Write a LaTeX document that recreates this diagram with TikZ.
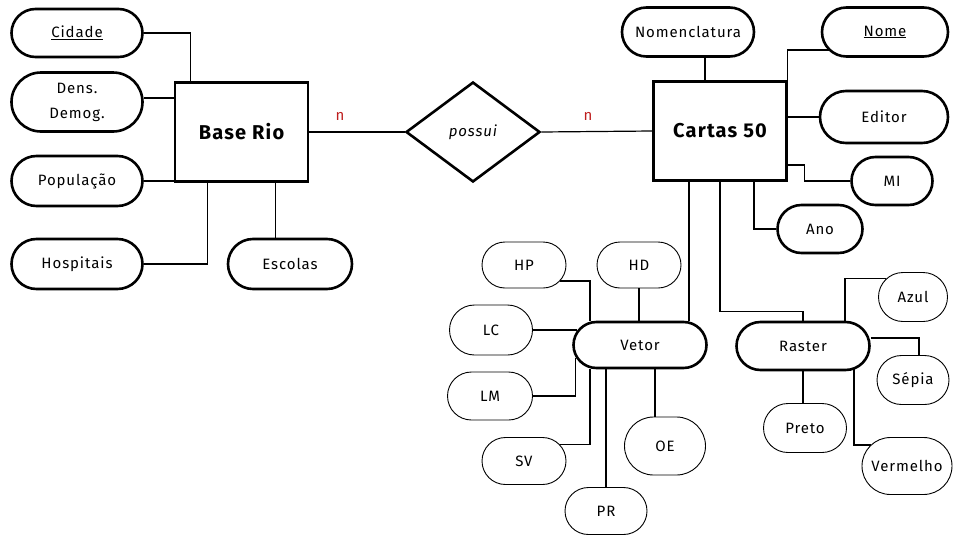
\documentclass[tikz,border=0pt]{standalone}
\usepackage{fontspec}
\setmainfont{Fira Sans}
\newfontfamily\spc[LetterSpace=6]{Fira Sans}
\usetikzlibrary{shapes.geometric,shapes.misc}
\definecolor{nred}{RGB}{190,30,30}
\begin{document}
\begin{tikzpicture}[x=1pt,y=-1pt,
  ent/.style={draw, line width=2.6pt, minimum width=133pt, minimum height=99pt, inner sep=0pt, font=\spc\fontsize{20}{24}\selectfont\bfseries},
  attr/.style={draw, rounded rectangle, line width=2.6pt, inner sep=0pt, font=\spc\fontsize{15}{18}\selectfont},
  sattr/.style={attr, line width=0.9pt},
  rel/.style={draw, diamond, line width=2.6pt, aspect=1.34, minimum width=134pt, minimum height=100pt, inner sep=0pt, font=\spc\fontsize{15}{18}\selectfont\itshape},
  nlab/.style={text=nred, font=\spc\fontsize{15}{18}\selectfont, inner sep=0pt},
  lnk/.style={line width=1.2pt}]
\useasboundingbox (0,0) rectangle (954,536);
% left entity
\node[attr, minimum width=131pt, minimum height=48pt] (cid) at (77,33) {\underline{Cidade}};
\node[attr, minimum width=131pt, minimum height=59pt, align=center, font=\spc\fontsize{15}{25}\selectfont] (dens) at (77,102) {Dens.\\Demog.};
\node[attr, minimum width=131pt, minimum height=50pt] (pop) at (77,181) {População};
\node[attr, minimum width=131pt, minimum height=50pt] (hosp) at (77,264) {Hospitais};
\node[attr, minimum width=124pt, minimum height=50pt] (esc) at (290,264) {Escolas};
\node[ent] (base) at (241.5,132) {Base Rio};
\node[rel] (rel) at (473,132) {possui};
\node[ent] (cart) at (720,131) {Cartas 50};
\node[nlab] (n1) at (340,116) {n};
\node[nlab] (n2) at (588,116) {n};
% right entity attributes
\node[attr, minimum width=132pt, minimum height=49pt] (nom) at (688,32) {Nomenclatura};
\node[attr, minimum width=126pt, minimum height=49pt] (nome) at (885,32) {\underline{Nome}};
\node[attr, minimum width=128pt, minimum height=52pt] (edit) at (884,117) {Editor};
\node[attr, minimum width=81pt, minimum height=48pt] (mi) at (892,181) {MI};
\node[attr, minimum width=85pt, minimum height=48pt] (ano) at (820,229) {Ano};
\node[attr, minimum width=133pt, minimum height=46pt] (vet) at (640,345) {Vetor};
\node[attr, minimum width=133pt, minimum height=48pt] (ras) at (803,346) {Raster};
% vetor attributes
\node[sattr, minimum width=84pt, minimum height=46pt] (hp) at (524,265) {HP};
\node[sattr, minimum width=84pt, minimum height=46pt] (hd) at (639,265) {HD};
\node[sattr, minimum width=83pt, minimum height=50pt] (lc) at (491,330) {LC};
\node[sattr, minimum width=85pt, minimum height=48pt] (lm) at (490,396) {LM};
\node[sattr, minimum width=84pt, minimum height=47pt] (sv) at (524,461) {SV};
\node[sattr, minimum width=82pt, minimum height=47pt] (pr) at (606,511) {PR};
\node[sattr, minimum width=81pt, minimum height=58pt] (oe) at (665,446) {OE};
% raster attributes
\node[sattr, minimum width=69pt, minimum height=49pt] (azul) at (913,297) {Azul};
\node[sattr, minimum width=72pt, minimum height=49pt] (sep) at (913,380) {Sépia};
\node[sattr, minimum width=83pt, minimum height=49pt] (pre) at (805,428) {Preto};
\node[sattr, minimum width=90pt, minimum height=57pt] (ver) at (907,466) {Vermelho};
% connectors left
\draw[lnk] (cid.east) -| ([xshift=17pt]base.north west);
\draw[lnk] ([yshift=4pt]dens.east) -- ([yshift=4pt]dens.east -| base.west);
\draw[lnk] (pop.east) -- (pop.east -| base.west);
\draw[lnk] (hosp.east) -| ([xshift=34pt]base.south west);
\draw[lnk] ([xshift=34pt]base.south) -- ([xshift=34pt]base.south |- esc.north);
\draw[lnk] (base.east) -- (rel.west);
\draw[lnk] (rel.east) -- (cart.west);
% connectors right
\draw[lnk] ([xshift=-15pt]cart.north) -- ([xshift=-15pt]cart.north |- nom.south);
\draw[lnk] (cart.north east) |- ([xshift=8pt,yshift=-18pt]nome.west);
\draw[lnk] (edit.west) -- (edit.west -| cart.east);
\draw[lnk] ([yshift=-34pt]cart.east) -- ++(17,0) |- (mi.west);
\draw[lnk] ([xshift=34pt]cart.south) |- (ano.west);
\draw[lnk] ([xshift=-31pt]cart.south) -- ([xshift=-31pt]cart.south |- vet.north);
\draw[lnk] (cart.south) -- ++(0,130) -| (ras.north);
% vetor connectors
\draw[lnk] (hp.-24) -| ([xshift=-50pt]vet.north);
\draw[lnk] (hd.south) -- (hd.south |- vet.north);
\draw[lnk] (lc.east) -- ([xshift=5pt]lc.east -| vet.west);
\draw[lnk] (lm.east) -| ([xshift=3pt,yshift=-13pt]vet.west);
\draw[lnk] (sv.24) -| ([xshift=-50pt]vet.south);
\draw[lnk] (pr.north) -- (pr.north |- vet.south);
\draw[lnk] ([xshift=-10pt]oe.north) -- ([xshift=-10pt]oe.north |- vet.south);
% raster connectors
\draw[lnk] ([xshift=42pt]ras.north) |- (azul.146);
\draw[lnk] ([yshift=8pt]ras.east) -| ([xshift=6pt]sep.north);
\draw[lnk] (ras.south) -- (ras.south |- pre.north);
\draw[lnk] ([xshift=51pt,yshift=3pt]ras.south) |- ([xshift=9pt,yshift=21pt]ver.west);
\end{tikzpicture}
\end{document}
